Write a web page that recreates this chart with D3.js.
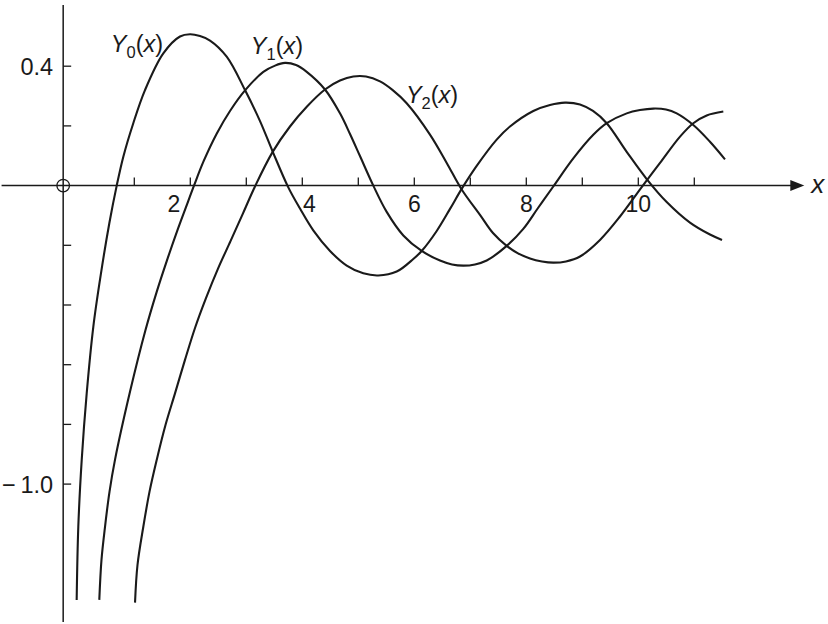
<!DOCTYPE html>
<html>
<head>
<meta charset="utf-8">
<script src="https://cdn.jsdelivr.net/npm/d3@7"></script>
<style>
  html, body { margin: 0; padding: 0; background: #fff; }
  svg { display: block; }
</style>
</head>
<body>
<div id="chart"></div>
<script>
// ---- data ----
const y0X = [-0.029, 0.000, 0.061, 0.150, 0.268, 0.405, 0.554, 0.686, 0.804, 0.982, 1.191, 1.518, 1.816, 1.995, 2.173, 2.352, 2.650, 2.977, 3.245, 3.471, 3.750, 3.959, 4.196, 4.495, 4.793, 5.089, 5.357, 5.686, 5.982, 6.132, 6.400, 6.638, 6.846, 7.114, 7.471, 7.709, 8.125, 8.423, 8.691, 8.959, 9.191, 9.436, 9.793, 10.150, 10.507, 10.923, 11.280, 11.495];
const y0Y = [-1.388, -1.143, -0.919, -0.696, -0.473, -0.294, -0.126, 0.000, 0.097, 0.209, 0.320, 0.443, 0.4995, 0.507, 0.501, 0.486, 0.432, 0.320, 0.216, 0.114, -0.006, -0.077, -0.150, -0.219, -0.268, -0.294, -0.301, -0.288, -0.246, -0.219, -0.152, -0.078, -0.011, 0.066, 0.154, 0.198, 0.250, 0.270, 0.278, 0.272, 0.250, 0.209, 0.113, 0.022, -0.055, -0.124, -0.164, -0.182];

const y1X = [0.375, 0.414, 0.477, 0.557, 0.655, 0.923, 1.200, 1.400, 1.579, 1.771, 1.923, 2.066, 2.236, 2.471, 2.709, 2.977, 3.304, 3.513, 3.691, 3.888, 4.079, 4.405, 4.673, 4.852, 5.030, 5.268, 5.507, 5.804, 6.132, 6.459, 6.673, 6.875, 7.084, 7.293, 7.650, 7.946, 8.209, 8.482, 8.839, 9.196, 9.436, 9.793, 10.030, 10.268, 10.495, 10.686, 10.982, 11.280, 11.548];
const y1Y = [-1.388, -1.254, -1.143, -1.026, -0.919, -0.691, -0.484, -0.356, -0.253, -0.149, -0.072, 0.000, 0.081, 0.174, 0.250, 0.319, 0.381, 0.402, 0.411, 0.404, 0.381, 0.322, 0.242, 0.173, 0.099, 0.000, -0.088, -0.167, -0.219, -0.251, -0.264, -0.268, -0.264, -0.251, -0.202, -0.145, -0.075, -0.003, 0.091, 0.170, 0.209, 0.242, 0.253, 0.258, 0.255, 0.242, 0.203, 0.147, 0.088];

const y2X = [1.013, 1.057, 1.161, 1.271, 1.400, 1.557, 1.727, 1.905, 2.084, 2.280, 2.495, 2.718, 2.941, 3.155, 3.471, 3.780, 4.084, 4.405, 4.673, 4.911, 5.138, 5.388, 5.620, 5.864, 6.280, 6.579, 6.846, 7.173, 7.405, 7.650, 7.852, 8.066, 8.280, 8.482, 8.709, 8.959, 9.316, 9.673, 10.061, 10.388, 10.745, 10.982, 11.221, 11.518];
const y2Y = [-1.397, -1.271, -1.143, -1.026, -0.919, -0.802, -0.696, -0.584, -0.477, -0.377, -0.278, -0.186, -0.093, -0.003, 0.113, 0.198, 0.265, 0.322, 0.352, 0.3655, 0.3655, 0.349, 0.319, 0.276, 0.171, 0.076, -0.013, -0.098, -0.159, -0.202, -0.227, -0.244, -0.254, -0.258, -0.254, -0.2375, -0.182, -0.1035, -0.005, 0.076, 0.164, 0.209, 0.235, 0.248];

const seriesNames = ["0", "1", "2"];               // subscripts of Y_n(x)
const xTickValues = [1, 2, 3, 4, 5, 6, 7, 8, 9, 10, 11];
const xTickLabels = [2, 4, 6, 8, 10];
const yTickValues = [0.4, 0.2, -0.2, -0.4, -0.6, -0.8, -1.0];
const yTickLabels = [0.4, -1.0];

// ---- layout ----
const W = 828, H = 624;
const x = d3.scaleLinear().domain([0, 11]).range([78.3, 694.3]);
const y = d3.scaleLinear().domain([0, -1]).range([185.6, 484.1]);

const yAxisAt = -0.27;                 // the vertical axis sits left of x = 0 in the reference
const xAxisFrom = -1.37, xAxisTo = 12.75;
const yAxisTop = 0.605, yAxisBottom = -1.462;
const ink = "#1a1a1a";
const font = "'Liberation Sans', Arial, Helvetica, sans-serif";

const svg = d3.select("#chart").append("svg")
  .attr("width", W).attr("height", H)
  .style("font-family", font);

// x axis line
svg.append("line")
  .attr("x1", x(xAxisFrom)).attr("x2", x(xAxisTo))
  .attr("y1", y(0)).attr("y2", y(0))
  .attr("stroke", ink).attr("stroke-width", 1.5);
// arrow head
const ax = x(xAxisTo), ay = y(0);
svg.append("path")
  .attr("d", `M${ax - 2},${ay - 5.5} L${ax + 12},${ay} L${ax - 2},${ay + 5.5} Z`)
  .attr("fill", ink);
svg.append("text")
  .attr("x", ax + 19).attr("y", ay + 7.5)
  .attr("font-size", 26).attr("font-style", "italic").attr("fill", ink)
  .text("x");

// y axis line
svg.append("line")
  .attr("x1", x(yAxisAt)).attr("x2", x(yAxisAt))
  .attr("y1", y(yAxisTop)).attr("y2", y(yAxisBottom))
  .attr("stroke", ink).attr("stroke-width", 1.5);

// origin circle
svg.append("circle")
  .attr("cx", x(yAxisAt)).attr("cy", y(0)).attr("r", 6.3)
  .attr("fill", "none").attr("stroke", ink).attr("stroke-width", 1.3);

// x ticks (upwards)
svg.append("g").selectAll("line").data(xTickValues).join("line")
  .attr("x1", d => x(d)).attr("x2", d => x(d))
  .attr("y1", y(0)).attr("y2", y(0) - 8)
  .attr("stroke", ink).attr("stroke-width", 1.3);

// x tick labels (some nudged to clear the curves, as in the reference)
const xLabelShift = { 2: -16.5, 4: 7 };
svg.append("g").selectAll("text").data(xTickLabels).join("text")
  .attr("x", d => x(d) + (xLabelShift[d] || 0))
  .attr("y", y(0) + 26.5)
  .attr("text-anchor", "middle")
  .attr("font-size", 23).attr("fill", ink)
  .text(d => d);

// y ticks (to the right)
svg.append("g").selectAll("line").data(yTickValues).join("line")
  .attr("x1", x(yAxisAt)).attr("x2", x(yAxisAt) + 8)
  .attr("y1", d => y(d)).attr("y2", d => y(d))
  .attr("stroke", ink).attr("stroke-width", 1.3);

svg.append("g").selectAll("text").data(yTickLabels).join("text")
  .attr("x", x(yAxisAt) - 10)
  .attr("y", d => y(d) + 8.5)
  .attr("text-anchor", "end")
  .attr("font-size", 23.5).attr("fill", ink)
  .text(d => d < 0 ? "\u2212\u2009" + Math.abs(d).toFixed(1) : d.toFixed(1));

// curves
const series = [
  { name: seriesNames[0], xs: y0X, ys: y0Y, lx: 0.58, ly: 0.449 },
  { name: seriesNames[1], xs: y1X, ys: y1Y, lx: 3.08, ly: 0.441 },
  { name: seriesNames[2], xs: y2X, ys: y2Y, lx: 5.85, ly: 0.276 }
];
const line = d3.line()
  .x(d => x(d[0])).y(d => y(d[1]))
  .curve(d3.curveCatmullRom.alpha(0.5));

svg.append("g").selectAll("path").data(series).join("path")
  .attr("d", s => line(s.xs.map((v, i) => [v, s.ys[i]])))
  .attr("fill", "none").attr("stroke", ink).attr("stroke-width", 2.1)
  .attr("stroke-linejoin", "round").attr("stroke-linecap", "butt");

// curve labels Y_n(x)
const lab = svg.append("g").selectAll("text").data(series).join("text")
  .attr("x", s => x(s.lx)).attr("y", s => y(s.ly))
  .attr("font-size", 23.5).attr("fill", ink);
lab.append("tspan").attr("font-style", "italic").text("Y");
lab.append("tspan").attr("font-size", 16.5).attr("dy", 6).text(s => s.name);
lab.append("tspan").attr("dy", -6).text("(");
lab.append("tspan").attr("font-style", "italic").text("x");
lab.append("tspan").text(")");
</script>
</body>
</html>
